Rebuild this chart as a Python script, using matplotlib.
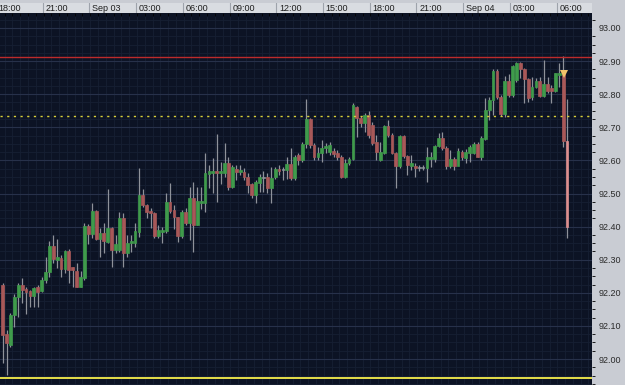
import numpy as np
import matplotlib.pyplot as plt
from matplotlib.transforms import blended_transform_factory

# 15 minute bars starting Sep 02 18:00 (x is hours since then)
opens = [92.224, 92.076, 92.042, 92.133, 92.187, 92.224, 92.212, 92.205, 92.190, 92.218,
         92.205, 92.239, 92.263, 92.341, 92.299, 92.305, 92.272, 92.326, 92.278, 92.266,
         92.218, 92.245, 92.402, 92.378, 92.447, 92.363, 92.381, 92.353, 92.396, 92.329,
         92.329, 92.426, 92.320, 92.350, 92.350, 92.384, 92.495, 92.465, 92.447, 92.441,
         92.372, 92.384, 92.387, 92.474, 92.450, 92.429, 92.372, 92.444, 92.411, 92.486,
         92.405, 92.471, 92.471, 92.559, 92.562, 92.568, 92.562, 92.562, 92.592, 92.520,
         92.574, 92.565, 92.565, 92.550, 92.529, 92.495, 92.532, 92.547, 92.550, 92.517,
         92.550, 92.574, 92.571, 92.571, 92.589, 92.547, 92.616, 92.601, 92.650, 92.725,
         92.647, 92.610, 92.622, 92.637, 92.625, 92.628, 92.622, 92.610, 92.550, 92.592,
         92.604, 92.761, 92.728, 92.713, 92.737, 92.707, 92.656, 92.601, 92.622, 92.704,
         92.677, 92.622, 92.583, 92.674, 92.613, 92.583, 92.583, 92.577, 92.577, 92.577,
         92.604, 92.604, 92.643, 92.668, 92.637, 92.583, 92.604, 92.583, 92.625, 92.607,
         92.622, 92.622, 92.650, 92.610, 92.665, 92.752, 92.782, 92.870, 92.792, 92.740,
         92.840, 92.798, 92.843, 92.894, 92.876, 92.846, 92.792, 92.822, 92.840, 92.795,
         92.831, 92.819, 92.810, 92.858, 92.861, 92.659]
highs = [92.230, 92.088, 92.139, 92.196, 92.230, 92.245, 92.218, 92.209, 92.218, 92.224,
         92.248, 92.308, 92.356, 92.375, 92.363, 92.314, 92.329, 92.332, 92.278, 92.290,
         92.266, 92.411, 92.408, 92.471, 92.450, 92.396, 92.411, 92.514, 92.399, 92.375,
         92.444, 92.441, 92.375, 92.375, 92.411, 92.577, 92.514, 92.468, 92.456, 92.444,
         92.405, 92.399, 92.501, 92.532, 92.465, 92.429, 92.450, 92.456, 92.520, 92.535,
         92.520, 92.520, 92.622, 92.586, 92.607, 92.680, 92.595, 92.653, 92.610, 92.586,
         92.586, 92.586, 92.577, 92.562, 92.532, 92.541, 92.559, 92.568, 92.562, 92.580,
         92.580, 92.586, 92.580, 92.610, 92.637, 92.616, 92.622, 92.656, 92.786, 92.728,
         92.653, 92.640, 92.662, 92.653, 92.656, 92.637, 92.631, 92.616, 92.604, 92.610,
         92.773, 92.764, 92.734, 92.743, 92.749, 92.716, 92.677, 92.656, 92.707, 92.722,
         92.683, 92.625, 92.677, 92.677, 92.616, 92.616, 92.592, 92.586, 92.586, 92.640,
         92.625, 92.647, 92.683, 92.686, 92.643, 92.631, 92.610, 92.637, 92.631, 92.634,
         92.647, 92.656, 92.656, 92.674, 92.789, 92.792, 92.876, 92.876, 92.798, 92.855,
         92.861, 92.888, 92.897, 92.897, 92.879, 92.849, 92.852, 92.849, 92.852, 92.903,
         92.852, 92.828, 92.864, 92.894, 92.915, 92.786]
lows = [91.988, 91.952, 92.036, 92.097, 92.127, 92.169, 92.136, 92.157, 92.157, 92.157,
        92.203, 92.230, 92.248, 92.290, 92.275, 92.248, 92.260, 92.230, 92.218, 92.218,
        92.218, 92.239, 92.347, 92.366, 92.360, 92.308, 92.320, 92.350, 92.278, 92.320,
        92.323, 92.278, 92.308, 92.323, 92.338, 92.369, 92.459, 92.426, 92.396, 92.366,
        92.366, 92.350, 92.381, 92.441, 92.393, 92.353, 92.366, 92.405, 92.360, 92.323,
        92.405, 92.453, 92.444, 92.517, 92.501, 92.474, 92.529, 92.550, 92.511, 92.517,
        92.541, 92.556, 92.541, 92.501, 92.486, 92.471, 92.505, 92.505, 92.501, 92.471,
        92.544, 92.556, 92.541, 92.544, 92.541, 92.541, 92.586, 92.595, 92.637, 92.637,
        92.601, 92.601, 92.595, 92.622, 92.616, 92.610, 92.601, 92.547, 92.547, 92.586,
        92.601, 92.671, 92.701, 92.686, 92.668, 92.647, 92.601, 92.598, 92.619, 92.671,
        92.619, 92.517, 92.577, 92.607, 92.556, 92.571, 92.550, 92.568, 92.571, 92.535,
        92.580, 92.595, 92.640, 92.631, 92.574, 92.577, 92.571, 92.592, 92.601, 92.592,
        92.595, 92.619, 92.610, 92.601, 92.662, 92.722, 92.737, 92.786, 92.734, 92.731,
        92.792, 92.792, 92.837, 92.849, 92.773, 92.776, 92.783, 92.819, 92.792, 92.792,
        92.804, 92.773, 92.807, 92.822, 92.641, 92.366]
closes = [92.073, 92.048, 92.133, 92.187, 92.224, 92.209, 92.203, 92.190, 92.215, 92.203,
          92.239, 92.263, 92.341, 92.302, 92.308, 92.272, 92.326, 92.269, 92.269, 92.218,
          92.248, 92.402, 92.378, 92.447, 92.363, 92.381, 92.356, 92.396, 92.329, 92.347,
          92.426, 92.320, 92.350, 92.356, 92.387, 92.495, 92.465, 92.444, 92.441, 92.372,
          92.390, 92.390, 92.474, 92.447, 92.429, 92.372, 92.444, 92.411, 92.486, 92.405,
          92.477, 92.477, 92.562, 92.568, 92.568, 92.562, 92.568, 92.592, 92.520, 92.580,
          92.565, 92.571, 92.550, 92.526, 92.495, 92.535, 92.550, 92.550, 92.517, 92.547,
          92.574, 92.568, 92.574, 92.589, 92.547, 92.610, 92.601, 92.650, 92.725, 92.647,
          92.610, 92.622, 92.637, 92.643, 92.647, 92.619, 92.610, 92.550, 92.592, 92.604,
          92.767, 92.728, 92.713, 92.737, 92.677, 92.653, 92.625, 92.625, 92.704, 92.677,
          92.622, 92.583, 92.674, 92.613, 92.586, 92.592, 92.577, 92.580, 92.580, 92.610,
          92.610, 92.643, 92.668, 92.637, 92.583, 92.604, 92.583, 92.628, 92.610, 92.625,
          92.640, 92.650, 92.610, 92.668, 92.752, 92.782, 92.870, 92.792, 92.740, 92.840,
          92.798, 92.885, 92.894, 92.876, 92.846, 92.789, 92.822, 92.840, 92.795, 92.831,
          92.810, 92.810, 92.864, 92.864, 92.659, 92.399]

time_ticks = [0, 3, 6, 9, 12, 15, 18, 21, 24, 27, 30, 33, 36]
time_labels = ['18:00', '21:00', 'Sep 03', '03:00', '06:00', '09:00', '12:00',
               '15:00', '18:00', '21:00', 'Sep 04', '03:00', '06:00']
price_ticks = [92.00, 92.10, 92.20, 92.30, 92.40, 92.50, 92.60, 92.70, 92.80, 92.90, 93.00]
resistance = 92.912
pivot = 92.734
support = 91.943

BG = '#0c1324'
PANEL = '#c9ccd3'
BAND = '#d9dce1'
UP = '#3f9b4b'
DOWN = '#a85858'
DOJI = '#8e929a'
WICK = '#8e929a'

o = np.array(opens)
h = np.array(highs)
l = np.array(lows)
c = np.array(closes)
t = 0.375 + 0.25 * np.arange(len(o))

fig = plt.figure(figsize=(6.25, 3.85), dpi=100, facecolor=PANEL)
ax = fig.add_axes([0, 0, 592 / 625, 372 / 385])
ax.set_facecolor(BG)

# grid: fine mesh + major lines
ax.set_xticks(np.arange(0, 39, 0.5), minor=True)
ax.set_yticks(np.arange(91.925, 93.05, 0.025), minor=True)
ax.set_xticks(time_ticks)
ax.set_yticks(price_ticks)
ax.grid(which='minor', color='#161f33', lw=0.6)
ax.grid(which='major', color='#27314a', lw=0.8)
ax.set_axisbelow(True)

colors = []
for i in range(len(o)):
    if abs(c[i] - o[i]) < 0.004:
        colors.append(DOJI)
    elif c[i] > o[i]:
        colors.append(UP)
    else:
        colors.append(DOWN)
colors[-1] = '#dc8e8e'

ax.vlines(t, l, h, color=WICK, lw=0.9, zorder=2)
ax.bar(t, np.abs(c - o), bottom=np.minimum(o, c), width=0.18,
       color=colors, edgecolor=colors, linewidth=0.5, zorder=3)

ax.axhline(resistance, color='#bd2b2b', lw=1.0, zorder=4)
ax.axhline(pivot, color='#d8cf3a', lw=1.0, ls=(0, (1.6, 3.2)), zorder=4)
ax.axhline(support, color='#e6df4a', lw=1.4, zorder=4)
ax.plot(t[-2] + 0.08, opens[-2], marker='v', color='#f2c46a', markersize=6,
        markeredgewidth=0, zorder=5)

ax.set_xlim(0.2015, 38.228)
ax.set_ylim(91.9215, 93.0453)
ax.yaxis.tick_right()
ax.tick_params(axis='y', length=0, pad=5, labelsize=6.5, labelcolor='#2a2a2a')
ax.tick_params(axis='x', length=0, labelbottom=False)
ax.set_yticklabels([f'{p:.2f}' for p in price_ticks], family='Liberation Sans')
for s in ax.spines.values():
    s.set_visible(False)

# time axis band on top
top = fig.add_axes([0, 372 / 385, 592 / 625, 10 / 385], sharex=ax)
top.set_facecolor(BAND)
top.set_ylim(0, 1)
top.set_xticks([])
top.set_yticks([])
for s in top.spines.values():
    s.set_visible(False)
tr = blended_transform_factory(top.transData, top.transAxes)
for x, lab in zip(time_ticks, time_labels):
    top.plot([x - 0.05, x - 0.05], [0, 1], color='#9ea3ab', lw=0.8, transform=tr)
    top.text(x + 0.12, 0.45, lab, transform=tr, ha='left', va='center',
             fontsize=6.5, color='#1e1e1e', family='Liberation Sans')
top.set_xlim(0.2015, 38.228)

fig.savefig('out.png', dpi=100, facecolor=PANEL)
